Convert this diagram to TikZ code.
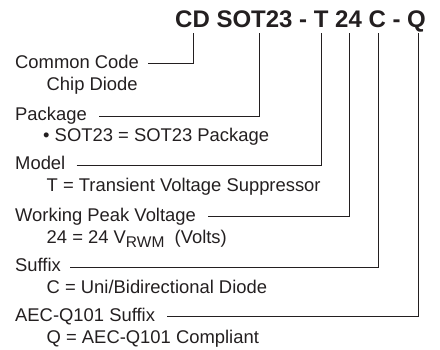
\documentclass[tikz,border=0pt]{standalone}
\usepackage{fontspec}
\setmainfont{Liberation Sans}
\definecolor{ink}{HTML}{231F20}
\begin{document}
\begin{tikzpicture}[x=1pt,y=-1pt,
  lbl/.style={anchor=base west,inner sep=0pt,text height=13pt,text depth=4pt,
    font=\fontsize{18.4}{20}\selectfont,text=ink},
  desc/.style={anchor=base west,inner sep=0pt,font=\fontsize{18.4}{20}\selectfont,text=ink},
  ttl/.style={anchor=base west,inner sep=0pt,font=\fontsize{24}{26}\bfseries\selectfont,text=ink},
  conn/.style={draw=ink,line width=0.9pt}]
\useasboundingbox (0,0) rectangle (440,349);
% title
\node[ttl] (title) at (175,27) {CD SOT23 - T 24 C - Q};
\coordinate (pCD) at (193,33);
\coordinate (pSOT) at (259,33);
\coordinate (pT) at (321,33);
\coordinate (p24) at (349,33);
\coordinate (pC) at (378,33);
\coordinate (pQ) at (418,33);
% labels
\node[lbl] (lCC) at (15,68.3) {Common Code};
\node[desc] (dCC) at (46.5,90) {Chip Diode};
\node[lbl] (lPk) at (15,120.5) {Package};
\node[desc] (dPk) at (43,141.5) {\textbullet\ SOT23 = SOT23 Package};
\node[lbl] (lMd) at (15,169.8) {Model};
\node[desc] (dMd) at (46.5,191.5) {T = Transient Voltage Suppressor};
\node[lbl] (lWV) at (15,221) {Working Peak Voltage};
\node[desc] (dWV) at (46.5,243) {24 = 24 V{\fontsize{15.5}{15}\selectfont\raisebox{-4.5pt}{RWM}}\ \ (Volts)};
\node[lbl] (lSf) at (15,271.5) {Suffix};
\node[desc] (dSf) at (46.5,293) {C = Uni/Bidirectional Diode};
\node[lbl] (lAQ) at (15,321.2) {AEC-Q101 Suffix};
\node[desc] (dAQ) at (46.5,343) {Q = AEC-Q101 Compliant};
% connectors
\draw[conn] ([xshift=9pt]lCC.east) -| (pCD);
\draw[conn] ([xshift=12pt]lPk.east) -| (pSOT);
\draw[conn] ([xshift=11pt]lMd.east) -| (pT);
\draw[conn] ([xshift=12pt]lWV.east) -| (p24);
\draw[conn] ([xshift=9pt]lSf.east) -| (pC);
\draw[conn] ([xshift=12pt]lAQ.east) -| (pQ);
\end{tikzpicture}
\end{document}
